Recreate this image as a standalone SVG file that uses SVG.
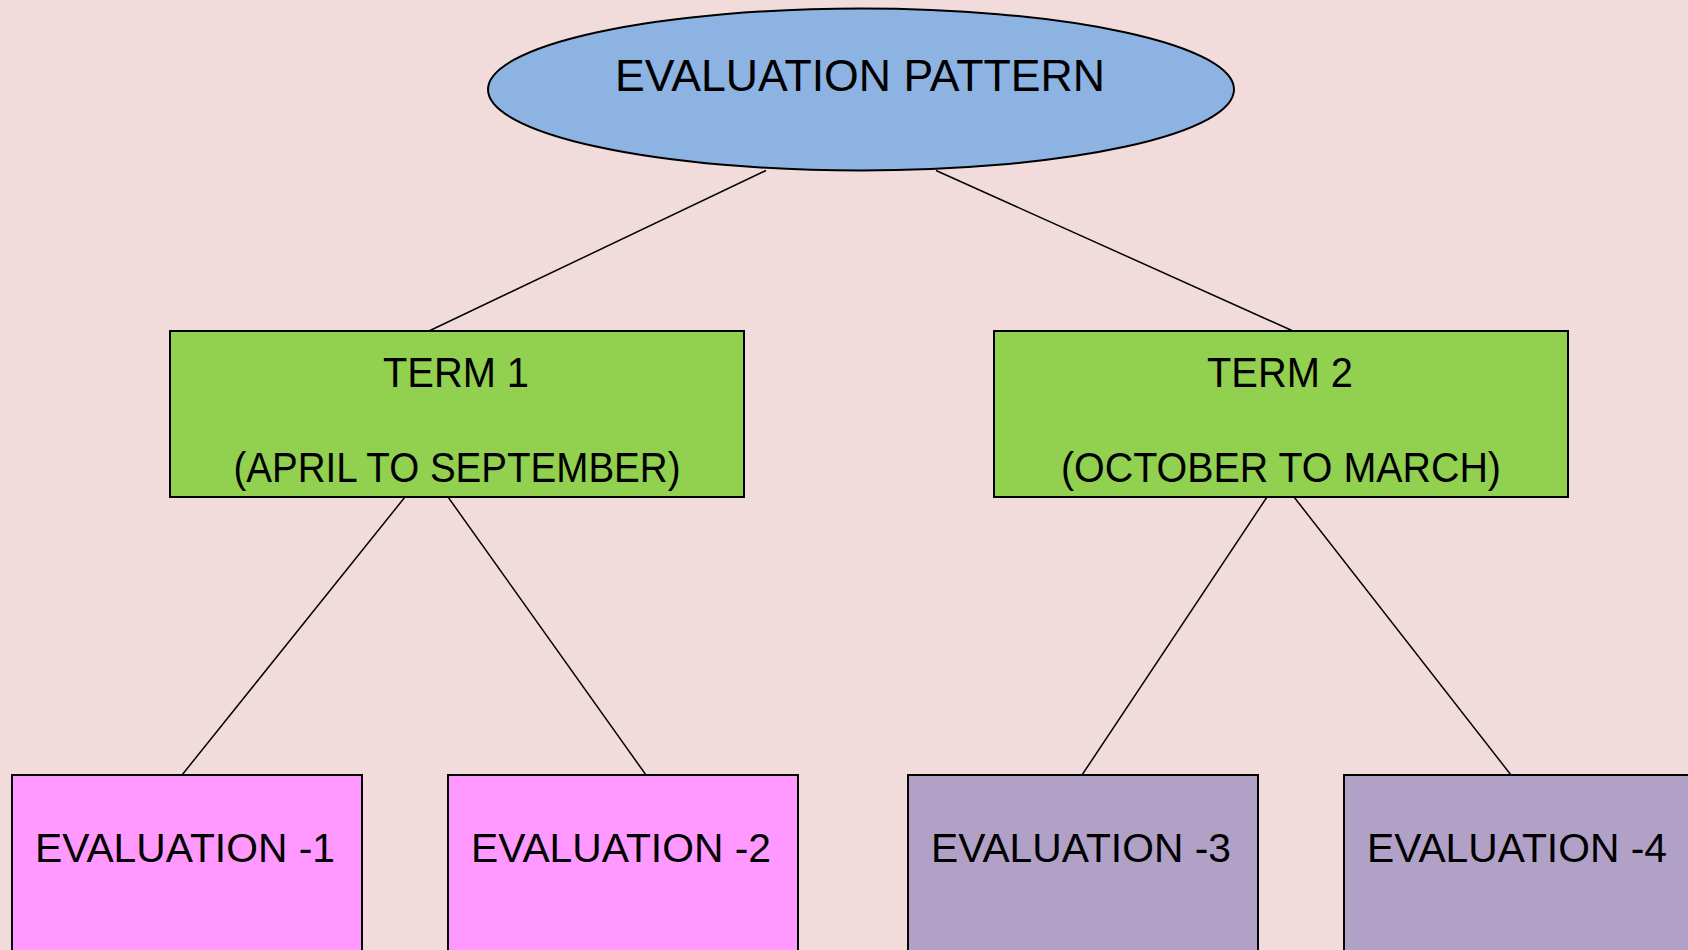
<svg xmlns="http://www.w3.org/2000/svg" width="1688" height="950" viewBox="0 0 1688 950">
<style>
.shape{stroke:#000;stroke-width:2}
.conn line{stroke:#000;stroke-width:1.5}
text{font-family:"Liberation Sans",Arial,sans-serif;fill:#000;text-anchor:middle}
.t1{font-size:45px}
.t2{font-size:42px}
.t3{font-size:40px}
</style>
<rect x="0" y="0" width="1688" height="950" fill="#F2DCDB"/>
<g id="connectors" class="conn">
<line x1="766" y1="170.5" x2="429" y2="331"/>
<line x1="936" y1="170.5" x2="1293" y2="331"/>
<line x1="405" y1="497" x2="182" y2="775"/>
<line x1="448" y1="497" x2="646" y2="775"/>
<line x1="1267" y1="497" x2="1082" y2="775"/>
<line x1="1294" y1="497" x2="1511" y2="775"/>
</g>
<g id="root">
<ellipse class="shape" cx="861" cy="89.5" rx="373" ry="81" fill="#8DB3E2"/>
<text class="t1" x="860" y="91" textLength="490" lengthAdjust="spacingAndGlyphs">EVALUATION PATTERN</text>
</g>
<g id="term1">
<rect class="shape" x="170" y="331" width="574" height="166" fill="#92D050"/>
<text class="t2" x="456" y="387" textLength="146" lengthAdjust="spacingAndGlyphs">TERM 1</text>
<text class="t2" x="457" y="482" textLength="447" lengthAdjust="spacingAndGlyphs">(APRIL TO SEPTEMBER)</text>
</g>
<g id="term2">
<rect class="shape" x="994" y="331" width="574" height="166" fill="#92D050"/>
<text class="t2" x="1280" y="387" textLength="146" lengthAdjust="spacingAndGlyphs">TERM 2</text>
<text class="t2" x="1281" y="482" textLength="440" lengthAdjust="spacingAndGlyphs">(OCTOBER TO MARCH)</text>
</g>
<g id="eval1">
<rect class="shape" x="12" y="775" width="350" height="190" fill="#FF99FF"/>
<text class="t3" x="185" y="862" textLength="300" lengthAdjust="spacingAndGlyphs">EVALUATION -1</text>
</g>
<g id="eval2">
<rect class="shape" x="448" y="775" width="350" height="190" fill="#FF99FF"/>
<text class="t3" x="621" y="862" textLength="300" lengthAdjust="spacingAndGlyphs">EVALUATION -2</text>
</g>
<g id="eval3">
<rect class="shape" x="908" y="775" width="350" height="190" fill="#B2A1C7"/>
<text class="t3" x="1081" y="862" textLength="300" lengthAdjust="spacingAndGlyphs">EVALUATION -3</text>
</g>
<g id="eval4">
<rect class="shape" x="1344" y="775" width="350" height="190" fill="#B2A1C7"/>
<text class="t3" x="1517" y="862" textLength="300" lengthAdjust="spacingAndGlyphs">EVALUATION -4</text>
</g>
</svg>
